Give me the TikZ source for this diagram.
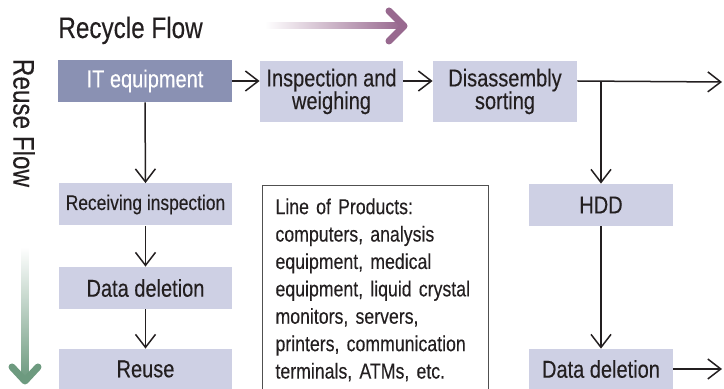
\documentclass[tikz,border=0pt]{standalone}
\usepackage{fontspec}
\setmainfont{Liberation Sans}[FakeStretch=0.82, FakeBold=0.25]
\usetikzlibrary{arrows.meta}
\usetikzlibrary{calc}
\usetikzlibrary{positioning}
\definecolor{itBlue}{HTML}{8A91B3}
\definecolor{boxLilac}{HTML}{CED0E4}
\definecolor{inkDark}{HTML}{231F20}
\definecolor{frameGray}{HTML}{505050}
\definecolor{recycleMauve}{HTML}{98698F}
\definecolor{reuseGreen}{HTML}{6D9A7F}
\newcommand{\tightlines}{\lineskiplimit=0pt\lineskip=0pt\relax}

\begin{document}
\begin{tikzpicture}[x=0.5pt,y=-0.5pt]
			\tikzstyle{arrow}=[draw, inkDark, line width=0.75pt, -{Straight Barb[length=6.5pt,width=10pt]}]
			\tikzstyle{stepbox}=[rectangle, fill=boxLilac, text=inkDark, inner sep=0pt, minimum width=72pt, minimum height=21pt, align=center, font=\fontsize{12.2}{10.5}\selectfont\tightlines]
			\tikzstyle{flowtitle}=[inner sep=0pt, text=inkDark, font=\fontsize{14.8}{15}\selectfont]
			\useasboundingbox (0,0) rectangle (724,389);

			% flow labels
			\node[flowtitle, anchor=base west] at (58, 38) (recycleTitle) {Recycle Flow};
			\shade[left color=white, right color=recycleMauve] (265, 23) rectangle (401, 29);
			\draw[recycleMauve, line width=3.5pt, line cap=round, line join=round] (389, 11) -- (404, 26) -- (389, 41);

			\node[flowtitle, rotate=-90] at (24, 123) (reuseTitle) {Reuse Flow};
			\shade[top color=white, bottom color=reuseGreen] (21.5, 247) rectangle (28.5, 379);
			\draw[reuseGreen, line width=3.5pt, line cap=round, line join=round] (12, 367) -- (25, 381) -- (38, 367);

			% recycle row
			\node[stepbox, fill=itBlue, text=white, minimum width=87pt] at (145, 81) (itEquipment) {IT equipment};
			\node[stepbox, minimum width=71.5pt, minimum height=30.5pt] at (331.5, 91.5) (inspectionWeighing) {Inspection and\\weighing};
			\node[stepbox, minimum height=30.5pt] at (505, 91.5) (disassemblySorting) {Disassembly\\sorting};

			\coordinate (recycleOut) at (722, 82);
			\path[arrow] (itEquipment.east) -- (itEquipment.east -| inspectionWeighing.west);
			\path[arrow] (inspectionWeighing.east |- itEquipment.east) -- (disassemblySorting.west |- itEquipment.east);
			\path[arrow] (disassemblySorting.east |- itEquipment.east) -- (recycleOut);

			% reuse column
			\node[stepbox, minimum width=86.5pt, font=\fontsize{10.6}{10}\selectfont] at (145.5, 204.5) (receivingInspection) {Receiving inspection};
			\node[stepbox, minimum width=86.5pt] at (145.5, 288) (dataDeletionLeft) {Data deletion};
			\node[stepbox, minimum width=86.5pt, minimum height=20pt] at (145.5, 369) (reuse) {Reuse};
			\path[arrow] (itEquipment.south) -- (receivingInspection.north);
			\path[arrow] (receivingInspection.south) -- (dataDeletionLeft.north);
			\path[arrow] (dataDeletionLeft.south) -- (reuse.north);

			% hdd column
			\node[stepbox] at (601, 205) (hdd) {HDD};
			\node[stepbox, minimum height=20pt] at (601, 369) (dataDeletionRight) {Data deletion};
			\coordinate (hddBranch) at (hdd.north |- recycleOut);
			\coordinate (deletionOut) at (722, 369);
			\path[arrow] (hddBranch) -- (hdd.north);
			\path[arrow] (hdd.south) -- (dataDeletionRight.north);
			\path[arrow] (dataDeletionRight.east) -- (deletionOut);

			% product list
			\node[draw=frameGray, line width=0.5pt, anchor=north west, inner xsep=6.5pt, inner ysep=6.5pt, text width=100pt, align=left, text=inkDark, font=\fontsize{10.8}{13.7}\selectfont] at (262, 185) (productLine) {Line of Products:\\computers, analysis\\equipment, medical\\equipment, liquid crystal\\monitors, servers,\\printers, communication\\terminals, ATMs, etc.};
		\end{tikzpicture}
\end{document}
